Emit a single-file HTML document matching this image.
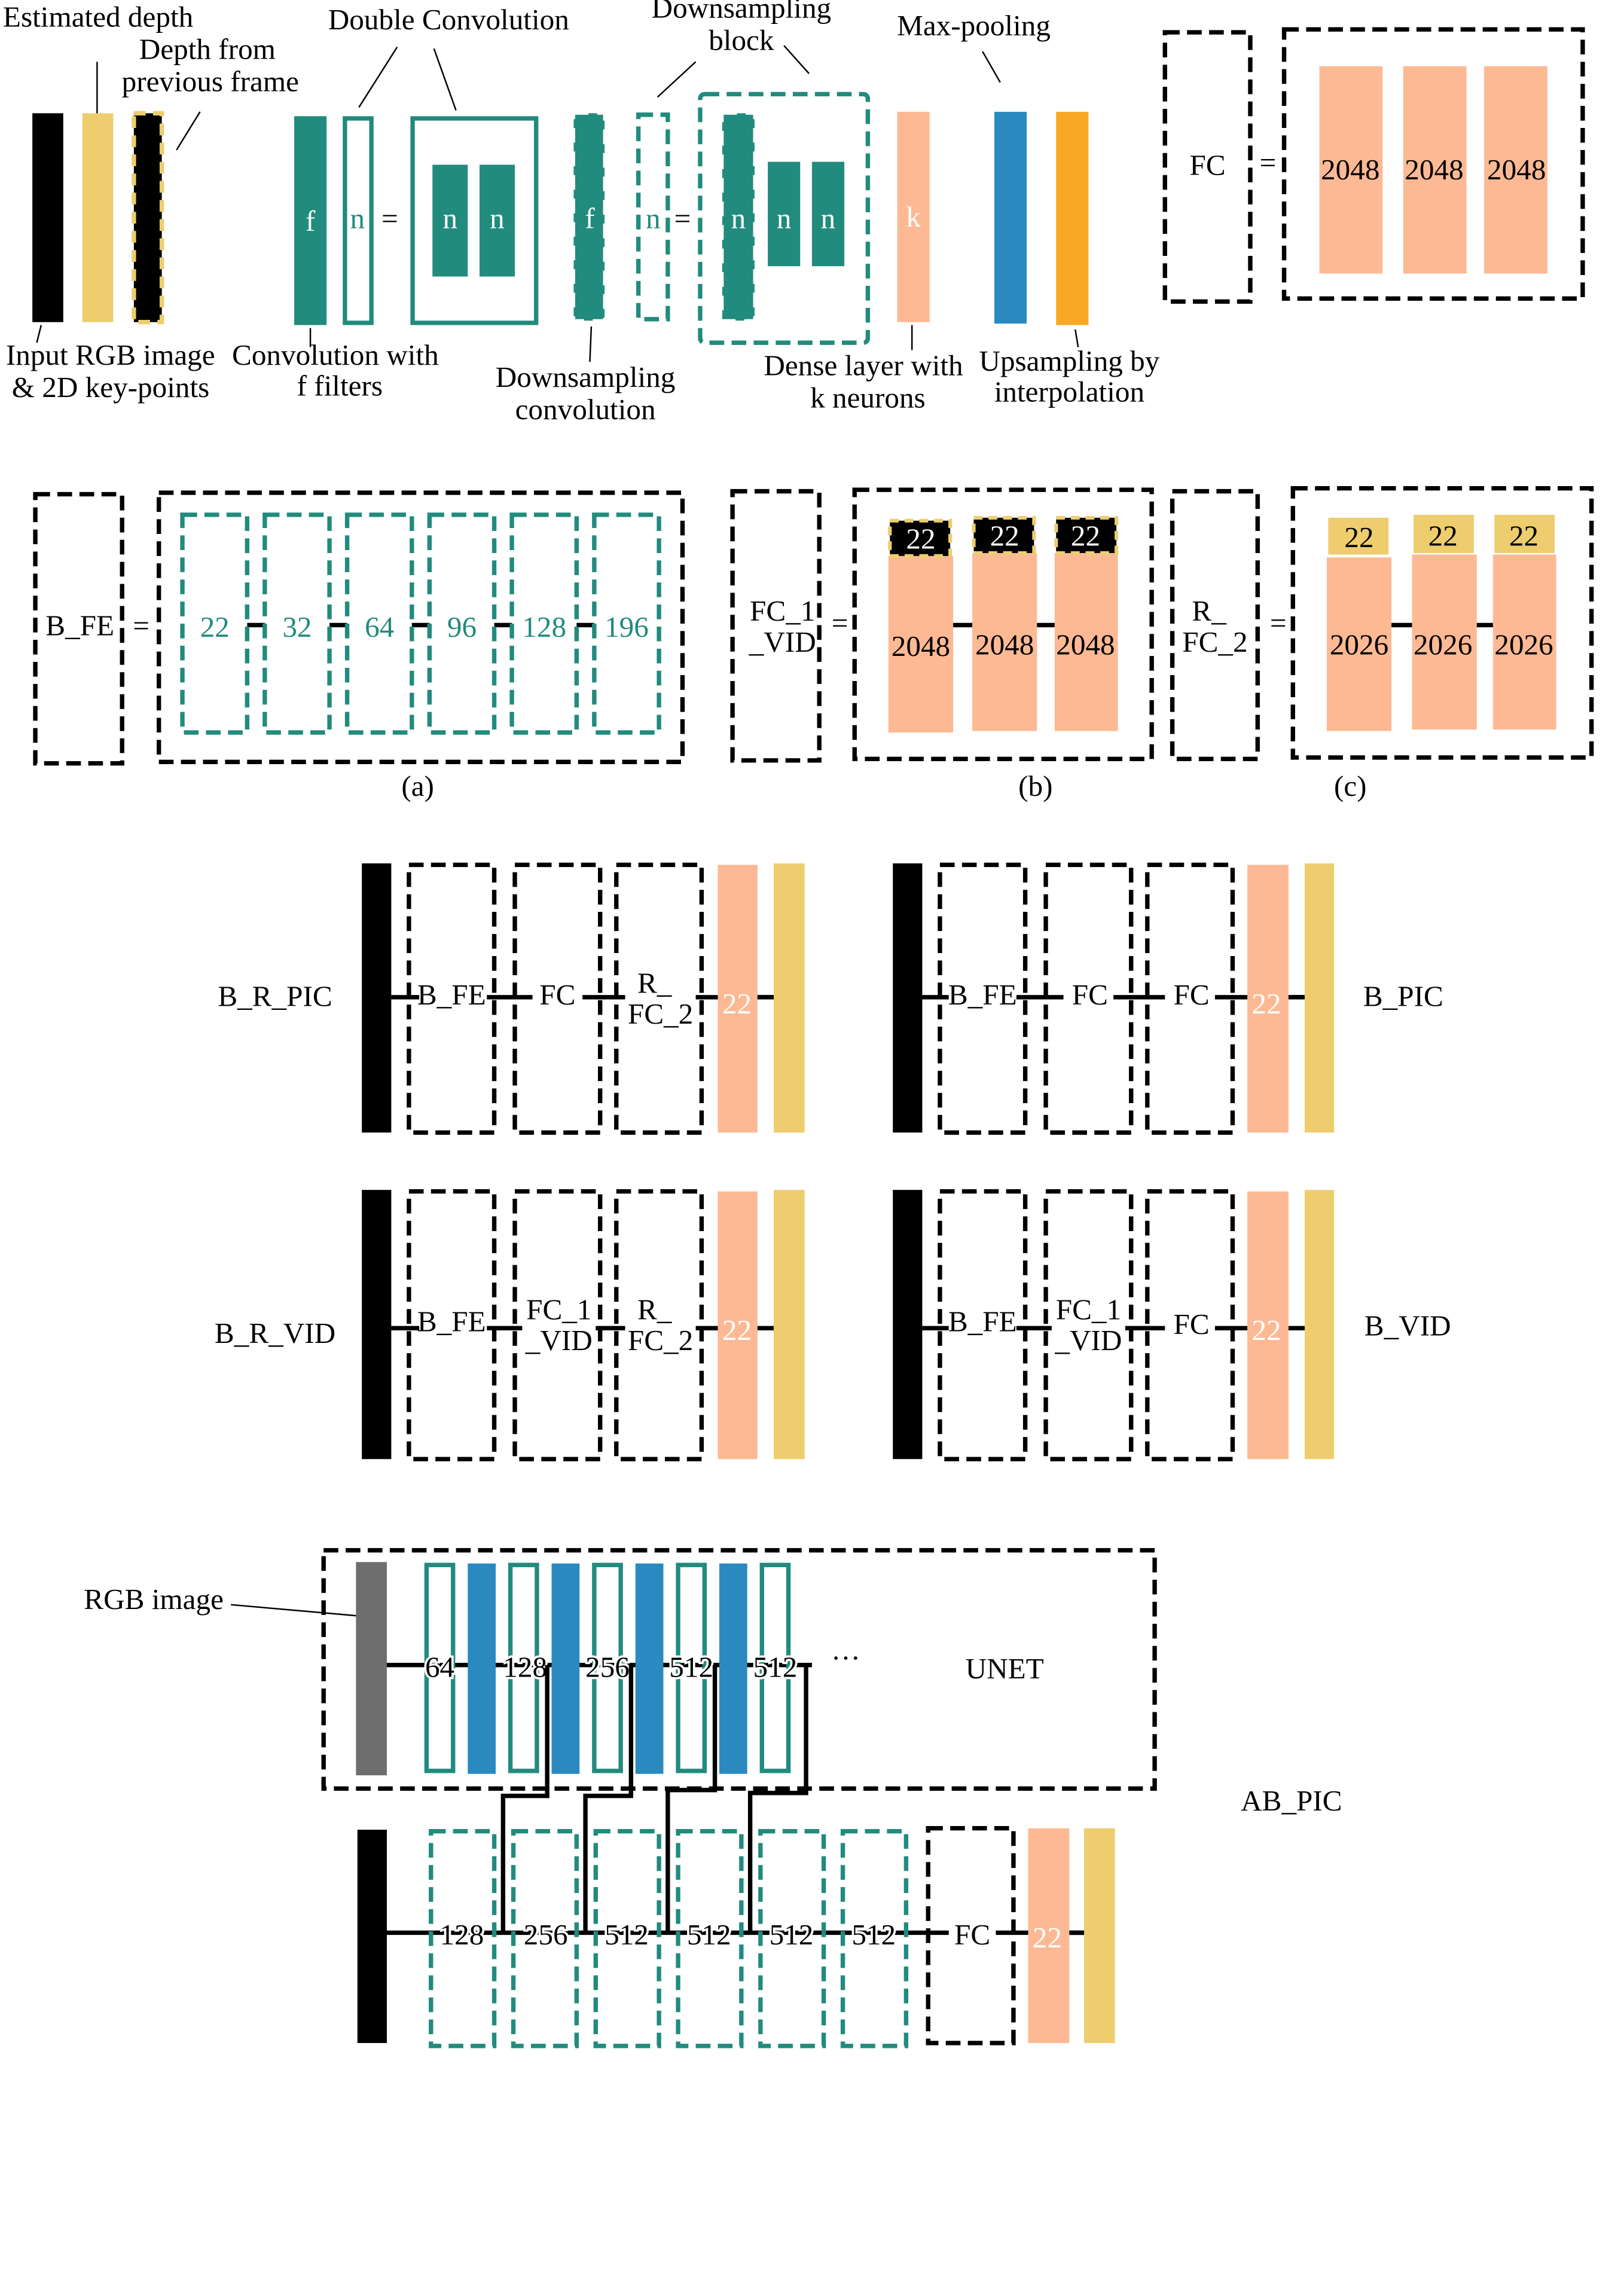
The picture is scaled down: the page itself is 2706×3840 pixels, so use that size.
<!DOCTYPE html>
<html><head><meta charset="utf-8"><style>
html,body{margin:0;padding:0;background:#fff;}
svg{display:block;font-family:"Liberation Serif","DejaVu Serif",serif;}
svg text{font-family:"Liberation Serif","DejaVu Serif",serif;font-size:20px;}
</style></head><body>
<svg width="2706" height="3840" viewBox="0 0 1100 1561" xmlns="http://www.w3.org/2000/svg" font-family="Liberation Serif, serif" font-size="20">
<defs>
<style>
.t{fill:#218B7D}.y{fill:#EDCD6E}.s{fill:#FDB994}.b{fill:#2A8AC0}.o{fill:#F9A825}
.db{fill:none;stroke:#000;stroke-width:3;stroke-dasharray:10 5}
.dt{fill:none;stroke:#218B7D;stroke-width:3;stroke-dasharray:10 5}
.ot{fill:none;stroke:#218B7D;stroke-width:3}
.ln{stroke:#000;stroke-width:3;fill:none}
.thin{stroke:#000;stroke-width:1;fill:none}
.w{fill:#fff}.tt{fill:#218B7D}
</style>
</defs>

<g>
<text x="2" y="18">Estimated depth</text>
<line class="thin" x1="66" y1="42" x2="66" y2="108"/>
<text x="141" y="40" text-anchor="middle">Depth from</text>
<text x="143" y="62" text-anchor="middle">previous frame</text>
<line class="thin" x1="136" y1="76" x2="120" y2="102"/>
<rect x="22" y="77" width="21" height="142" fill="#000"/>
<rect class="y" x="56" y="77" width="21" height="142"/>
<rect x="91" y="77" width="19" height="142" fill="#000" stroke="#EDCD6E" stroke-width="3" stroke-dasharray="8 5"/>
<line class="thin" x1="28" y1="221" x2="25" y2="233"/>
<text x="4" y="248">Input RGB image</text>
<text x="8" y="270">&amp; 2D key-points</text>

<text x="305" y="20" text-anchor="middle">Double Convolution</text>
<line class="thin" x1="270" y1="32" x2="244" y2="73"/>
<line class="thin" x1="295" y1="33" x2="310" y2="75"/>
<rect class="t" x="200" y="79" width="22" height="142"/>
<text x="211" y="157" text-anchor="middle" class="w">f</text>
<rect class="ot" x="234.5" y="80.5" width="18" height="139"/>
<text x="243" y="155" text-anchor="middle" class="tt">n</text>
<text x="265" y="155" text-anchor="middle">=</text>
<rect class="ot" x="280.5" y="80.5" width="84" height="139"/>
<rect class="t" x="294" y="112" width="24" height="76"/>
<rect class="t" x="326" y="112" width="24" height="76"/>
<text x="306" y="155" text-anchor="middle" class="w">n</text>
<text x="338" y="155" text-anchor="middle" class="w">n</text>
<line class="thin" x1="211" y1="223" x2="211" y2="236"/>
<text x="228" y="248" text-anchor="middle">Convolution with</text>
<text x="231" y="269" text-anchor="middle">f filters</text>

<rect class="t" x="390" y="77" width="21" height="141"/>
<rect x="390" y="77" width="21" height="141" fill="none" stroke="#fff" stroke-width="2" stroke-dasharray="10 6"/>
<text x="401" y="155" text-anchor="middle" class="w">f</text>
<line class="thin" x1="402" y1="222" x2="401" y2="246"/>
<text x="398" y="263" text-anchor="middle">Downsampling</text>
<text x="398" y="285" text-anchor="middle">convolution</text>

<text x="504" y="12" text-anchor="middle">Downsampling</text>
<text x="504" y="34" text-anchor="middle">block</text>
<line class="thin" x1="473" y1="42" x2="447" y2="66"/>
<line class="thin" x1="533" y1="31" x2="550" y2="50"/>
<rect class="dt" x="434" y="78" width="20" height="139"/>
<text x="444" y="155" text-anchor="middle" class="tt">n</text>
<text x="464" y="155" text-anchor="middle">=</text>
<rect class="dt" x="476" y="64" width="114" height="169" rx="3"/>
<rect class="t" x="491" y="77" width="22" height="141"/>
<rect x="491" y="77" width="22" height="141" fill="none" stroke="#fff" stroke-width="2" stroke-dasharray="10 6"/>
<rect class="t" x="522" y="110" width="22" height="71"/>
<rect class="t" x="552" y="110" width="22" height="71"/>
<text x="502" y="155" text-anchor="middle" class="w">n</text>
<text x="533" y="155" text-anchor="middle" class="w">n</text>
<text x="563" y="155" text-anchor="middle" class="w">n</text>

<rect class="s" x="610" y="76" width="22" height="143"/>
<text x="621" y="154" text-anchor="middle" class="w">k</text>
<line class="thin" x1="620" y1="221" x2="620" y2="238"/>
<text x="587" y="255" text-anchor="middle">Dense layer with</text>
<text x="590" y="277" text-anchor="middle">k neurons</text>

<text x="662" y="24" text-anchor="middle">Max-pooling</text>
<line class="thin" x1="668" y1="35" x2="680" y2="56"/>
<rect class="b" x="676" y="76" width="22" height="144"/>
<rect class="o" x="718" y="76" width="22" height="145"/>
<line class="thin" x1="731" y1="224" x2="733" y2="236"/>
<text x="727" y="252" text-anchor="middle">Upsampling by</text>
<text x="727" y="273" text-anchor="middle">interpolation</text>

<rect class="db" x="792" y="22" width="58" height="183"/>
<text x="821" y="119" text-anchor="middle">FC</text>
<text x="862" y="117" text-anchor="middle">=</text>
<rect class="db" x="873" y="20" width="203" height="183"/>
<rect class="s" x="897" y="45" width="43" height="141"/>
<rect class="s" x="954" y="45" width="43" height="141"/>
<rect class="s" x="1009" y="45" width="43" height="141"/>
<text x="918" y="122" text-anchor="middle">2048</text>
<text x="975" y="122" text-anchor="middle">2048</text>
<text x="1031" y="122" text-anchor="middle">2048</text>
</g>

<g>
<rect class="db" x="24" y="336" width="59" height="183"/>
<text x="31" y="432">B_FE</text>
<text x="96" y="432" text-anchor="middle">=</text>
<rect class="db" x="108" y="335" width="356" height="183"/>
<line class="ln" x1="168" y1="425" x2="404" y2="425"/>
<g fill="#fff">
<rect x="124" y="350" width="44" height="148"/><rect x="180" y="350" width="44" height="148"/><rect x="236" y="350" width="44" height="148"/><rect x="292" y="350" width="44" height="148"/><rect x="348" y="350" width="44" height="148"/><rect x="404" y="350" width="44" height="148"/>
</g>
<rect class="dt" x="124" y="350" width="44" height="148"/>
<rect class="dt" x="180" y="350" width="44" height="148"/>
<rect class="dt" x="236" y="350" width="44" height="148"/>
<rect class="dt" x="292" y="350" width="44" height="148"/>
<rect class="dt" x="348" y="350" width="44" height="148"/>
<rect class="dt" x="404" y="350" width="44" height="148"/>
<g class="tt" text-anchor="middle">
<text x="146" y="433">22</text><text x="202" y="433">32</text><text x="258" y="433">64</text><text x="314" y="433">96</text><text x="370" y="433">128</text><text x="426" y="433">196</text>
</g>
<text x="284" y="541" text-anchor="middle">(a)</text>
</g>

<g>
<rect class="db" x="498" y="334" width="59" height="183"/>
<text x="532" y="422" text-anchor="middle">FC_1</text>
<text x="532" y="443" text-anchor="middle">_VID</text>
<text x="571" y="430" text-anchor="middle">=</text>
<rect class="db" x="581" y="333" width="202" height="183"/>
<rect class="s" x="604" y="378" width="44" height="120"/>
<rect class="s" x="661" y="376" width="44" height="121"/>
<rect class="s" x="717" y="376" width="43" height="121"/>
<line class="ln" x1="648" y1="425" x2="661" y2="425"/>
<line class="ln" x1="705" y1="425" x2="717" y2="425"/>
<rect x="605" y="354" width="41" height="24" fill="#000" stroke="#EDCD6E" stroke-width="2.5" stroke-dasharray="6 4"/>
<rect x="662" y="352" width="41" height="24" fill="#000" stroke="#EDCD6E" stroke-width="2.5" stroke-dasharray="6 4"/>
<rect x="718" y="352" width="41" height="24" fill="#000" stroke="#EDCD6E" stroke-width="2.5" stroke-dasharray="6 4"/>
<g class="w" text-anchor="middle"><text x="626" y="373">22</text><text x="683" y="371">22</text><text x="738" y="371">22</text></g>
<g text-anchor="middle"><text x="626" y="446">2048</text><text x="683" y="445">2048</text><text x="738" y="445">2048</text></g>
<text x="704" y="541" text-anchor="middle">(b)</text>
</g>

<g>
<rect class="db" x="797" y="334" width="58" height="182"/>
<text x="822" y="422" text-anchor="middle">R_</text>
<text x="826" y="443" text-anchor="middle">FC_2</text>
<text x="869" y="430" text-anchor="middle">=</text>
<rect class="db" x="879" y="332" width="203" height="183"/>
<rect class="y" x="903" y="352" width="41" height="25"/><rect class="y" x="961" y="350" width="41" height="26"/><rect class="y" x="1016" y="350" width="41" height="26"/>
<rect class="s" x="902" y="379" width="44" height="118"/><rect class="s" x="960" y="377" width="44" height="119"/><rect class="s" x="1015" y="377" width="43" height="119"/>
<line class="ln" x1="946" y1="425" x2="960" y2="425"/>
<line class="ln" x1="1004" y1="425" x2="1015" y2="425"/>
<g text-anchor="middle"><text x="924" y="372">22</text><text x="981" y="371">22</text><text x="1036" y="371">22</text>
<text x="924" y="445">2026</text><text x="981" y="445">2026</text><text x="1036" y="445">2026</text></g>
<text x="918" y="541" text-anchor="middle">(c)</text>
</g>

<g>
<text x="187" y="684" text-anchor="middle">B_R_PIC</text>
<line class="ln" x1="266" y1="678" x2="526" y2="678"/>
<rect x="246" y="587" width="20" height="183" fill="#000"/>
<rect class="db" x="278" y="588" width="58" height="182"/>
<rect class="db" x="350" y="588" width="58" height="182"/>
<rect class="db" x="419" y="588" width="58" height="182"/>
<rect class="s" x="488" y="588" width="27" height="182"/>
<rect class="y" x="526" y="587" width="21" height="183"/>
<line class="ln" x1="515" y1="678" x2="526" y2="678"/>
<rect x="285" y="665" width="46" height="24" fill="#fff"/><rect x="362" y="665" width="34" height="24" fill="#fff"/><rect x="425" y="660" width="48" height="42" fill="#fff"/>
<text x="307" y="683" text-anchor="middle">B_FE</text><text x="379" y="683" text-anchor="middle">FC</text>
<text x="445" y="675" text-anchor="middle">R_</text><text x="449" y="696" text-anchor="middle">FC_2</text>
<text x="501" y="689" text-anchor="middle" class="w">22</text>
</g>

<g>
<line class="ln" x1="627" y1="678" x2="887" y2="678"/>
<rect x="607" y="587" width="20" height="183" fill="#000"/>
<rect class="db" x="639" y="588" width="58" height="182"/>
<rect class="db" x="711" y="588" width="58" height="182"/>
<rect class="db" x="780" y="588" width="58" height="182"/>
<rect class="s" x="848" y="588" width="28" height="182"/>
<rect class="y" x="887" y="587" width="20" height="183"/>
<line class="ln" x1="876" y1="678" x2="887" y2="678"/>
<rect x="645" y="665" width="46" height="24" fill="#fff"/><rect x="723" y="665" width="34" height="24" fill="#fff"/><rect x="792" y="665" width="34" height="24" fill="#fff"/>
<text x="668" y="683" text-anchor="middle">B_FE</text><text x="741" y="683" text-anchor="middle">FC</text><text x="810" y="683" text-anchor="middle">FC</text>
<text x="861" y="689" text-anchor="middle" class="w">22</text>
<text x="954" y="684" text-anchor="middle">B_PIC</text>
</g>

<g>
<text x="187" y="913" text-anchor="middle">B_R_VID</text>
<line class="ln" x1="266" y1="903" x2="526" y2="903"/>
<rect x="246" y="809" width="20" height="183" fill="#000"/>
<rect class="db" x="278" y="810" width="58" height="182"/>
<rect class="db" x="350" y="810" width="58" height="182"/>
<rect class="db" x="419" y="810" width="58" height="182"/>
<rect class="s" x="488" y="810" width="27" height="182"/>
<rect class="y" x="526" y="809" width="21" height="183"/>
<rect x="285" y="890" width="46" height="24" fill="#fff"/><rect x="355" y="880" width="50" height="44" fill="#fff"/><rect x="425" y="880" width="48" height="44" fill="#fff"/>
<text x="307" y="905" text-anchor="middle">B_FE</text>
<text x="380" y="897" text-anchor="middle">FC_1</text><text x="380" y="918" text-anchor="middle">_VID</text>
<text x="445" y="897" text-anchor="middle">R_</text><text x="449" y="918" text-anchor="middle">FC_2</text>
<text x="501" y="911" text-anchor="middle" class="w">22</text>
</g>

<g>
<line class="ln" x1="627" y1="903" x2="887" y2="903"/>
<rect x="607" y="809" width="20" height="183" fill="#000"/>
<rect class="db" x="639" y="810" width="58" height="182"/>
<rect class="db" x="711" y="810" width="58" height="182"/>
<rect class="db" x="780" y="810" width="58" height="182"/>
<rect class="s" x="848" y="810" width="28" height="182"/>
<rect class="y" x="887" y="809" width="20" height="183"/>
<rect x="645" y="890" width="46" height="24" fill="#fff"/><rect x="715" y="880" width="50" height="44" fill="#fff"/><rect x="792" y="890" width="34" height="24" fill="#fff"/>
<text x="668" y="905" text-anchor="middle">B_FE</text>
<text x="740" y="897" text-anchor="middle">FC_1</text><text x="740" y="918" text-anchor="middle">_VID</text>
<text x="810" y="907" text-anchor="middle">FC</text>
<text x="861" y="911" text-anchor="middle" class="w">22</text>
<text x="957" y="908" text-anchor="middle">B_VID</text>
</g>

<g>
<rect class="db" x="220" y="1054" width="565" height="162"/>
<text x="683" y="1141" text-anchor="middle">UNET</text>
<text x="152" y="1094" text-anchor="end">RGB image</text>
<line class="thin" x1="157" y1="1091" x2="248" y2="1099"/>
<rect x="242" y="1062" width="21" height="145" fill="#6E6E6E"/>
<line class="ln" x1="263" y1="1132" x2="552" y2="1132"/>
<rect class="b" x="318" y="1063" width="19" height="143"/><rect class="b" x="375" y="1063" width="19" height="143"/><rect class="b" x="432" y="1063" width="19" height="143"/><rect class="b" x="489" y="1063" width="19" height="143"/>
<rect class="ot" x="290" y="1064" width="18" height="140"/><rect class="ot" x="347" y="1064" width="18" height="140"/><rect class="ot" x="404" y="1064" width="18" height="140"/><rect class="ot" x="461" y="1064" width="18" height="140"/><rect class="ot" x="518" y="1064" width="18" height="140"/>
<g text-anchor="middle" stroke="#fff" stroke-width="3" paint-order="stroke">
<text x="299" y="1140">64</text><text x="357" y="1140">128</text><text x="413" y="1140">256</text><text x="470" y="1140">512</text><text x="527" y="1140">512</text>
</g>
<text x="575" y="1134" text-anchor="middle">···</text>
<polyline class="ln" points="372,1132 372,1221 342,1221 342,1314"/>
<polyline class="ln" points="429,1132 429,1221 398,1221 398,1314"/>
<polyline class="ln" points="486,1132 486,1217 454,1217 454,1314"/>
<polyline class="ln" points="548,1132 548,1219 510,1219 510,1314"/>
<text x="878" y="1231" text-anchor="middle">AB_PIC</text>
<line class="ln" x1="263" y1="1314" x2="737" y2="1314"/>
<rect x="243" y="1244" width="20" height="145" fill="#000"/>
<rect class="dt" x="293" y="1245" width="43" height="146"/><rect class="dt" x="349" y="1245" width="43" height="146"/><rect class="dt" x="405" y="1245" width="43" height="146"/><rect class="dt" x="461" y="1245" width="43" height="146"/><rect class="dt" x="517" y="1245" width="43" height="146"/><rect class="dt" x="573" y="1245" width="43" height="146"/>
<g text-anchor="middle" stroke="#fff" stroke-width="3" paint-order="stroke">
<text x="314" y="1322">128</text><text x="371" y="1322">256</text><text x="426" y="1322">512</text><text x="482" y="1322">512</text><text x="538" y="1322">512</text><text x="594" y="1322">512</text>
</g>
<rect class="db" x="631" y="1243" width="58" height="146"/>
<rect x="645" y="1302" width="32" height="24" fill="#fff"/>
<text x="661" y="1322" text-anchor="middle">FC</text>
<rect class="s" x="699" y="1243" width="28" height="146"/>
<rect class="y" x="737" y="1243" width="21" height="146"/>
<line class="ln" x1="727" y1="1314" x2="737" y2="1314"/>
<text x="712" y="1324" text-anchor="middle" class="w">22</text>
</g>
</svg>
</body></html>
